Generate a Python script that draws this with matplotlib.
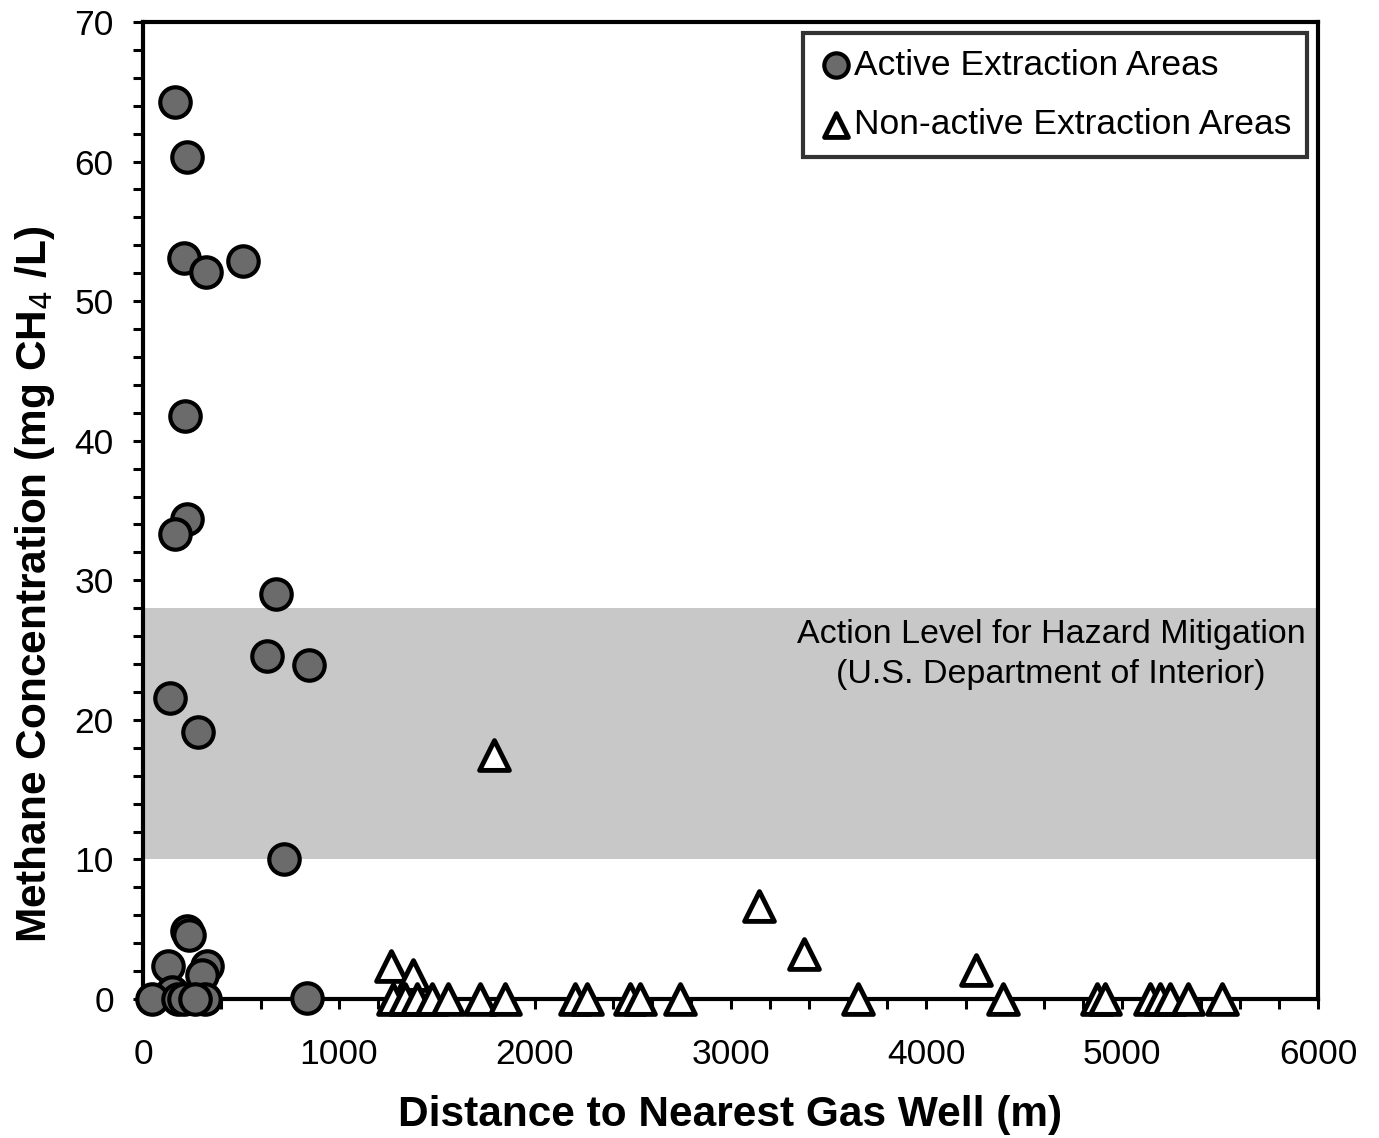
import numpy as np
import matplotlib.pyplot as plt
from matplotlib.ticker import MultipleLocator

plt.rcParams['font.family'] = ['Liberation Sans', 'DejaVu Sans']

# Active extraction areas (distance m, methane mg/L)
active_x = [163, 225, 209, 322, 511, 214, 225, 163, 679, 633, 848, 138, 281, 720,
            225, 235, 128, 327, 301, 148, 46, 179, 317, 838, 210, 265]
active_y = [64.3, 60.3, 53.1, 52.1, 52.9, 41.8, 34.4, 33.3, 29.0, 24.6, 23.9, 21.6,
            19.1, 10.0, 4.9, 4.6, 2.4, 2.4, 1.7, 0.5, 0.0, 0.0, 0.0, 0.1, 0.0, 0.0]

# Non-active extraction areas
nonactive_x = [1793, 3146, 3376, 4254, 1267, 1379,
               1277, 1338, 1399, 1476, 1558, 1721, 1849, 2206, 2267, 2487, 2538,
               2742, 3652, 4392, 4872, 4913, 5143, 5194, 5245, 5337, 5511]
nonactive_y = [17.5, 6.7, 3.2, 2.1, 2.4, 1.7,
               0, 0, 0, 0, 0, 0, 0, 0, 0, 0, 0,
               0, 0, 0, 0, 0, 0, 0, 0, 0, 0]

band_low, band_high = 10, 28

fig = plt.figure(figsize=(13.79, 11.38), dpi=100)
ax = fig.add_axes([0.1037, 0.1221, 0.8521, 0.8586])

ax.axhspan(band_low, band_high, color='#c8c8c8', zorder=0, lw=0)
ax.text(5935, 27.2, 'Action Level for Hazard Mitigation\n(U.S. Department of Interior)',
        ha='right', va='top', fontsize=24.5, multialignment='center', linespacing=1.35)

ax.scatter(active_x, active_y, s=480, c='#6b6b6b', edgecolors='black', linewidths=3,
           label='Active Extraction Areas', zorder=3, clip_on=False)
ax.scatter(nonactive_x, nonactive_y, s=460, marker='^', c='white', edgecolors='black',
           linewidths=3.5, label='Non-active Extraction Areas', zorder=3, clip_on=False)

ax.set_xlim(0, 6000)
ax.set_ylim(0, 70)
ax.xaxis.set_major_locator(MultipleLocator(1000))
ax.xaxis.set_minor_locator(MultipleLocator(200))
ax.yaxis.set_major_locator(MultipleLocator(10))
ax.yaxis.set_minor_locator(MultipleLocator(2))
ax.tick_params(which='both', direction='out', length=7, width=2.2, labelsize=25.5)
ax.tick_params(axis='x', which='major', pad=21)
ax.tick_params(axis='y', which='major', pad=14)
for sp in ax.spines.values():
    sp.set_linewidth(3)

ax.set_xlabel('Distance to Nearest Gas Well (m)', fontsize=30.5, fontweight='bold', labelpad=17)
ax.set_ylabel('Methane Concentration (mg CH$_4$ /L)', fontsize=30.5, fontweight='bold')
ax.yaxis.set_label_coords(-0.073, 0.424)

leg = ax.legend(loc='upper right', fontsize=25.5, frameon=True, fancybox=False,
                handletextpad=0.0, borderpad=0.45, labelspacing=0.75,
                borderaxespad=0.3, markerscale=0.8, handlelength=1.0)
leg.get_frame().set_edgecolor('black')
leg.get_frame().set_linewidth(3)

fig.savefig('out.png', dpi=100)
